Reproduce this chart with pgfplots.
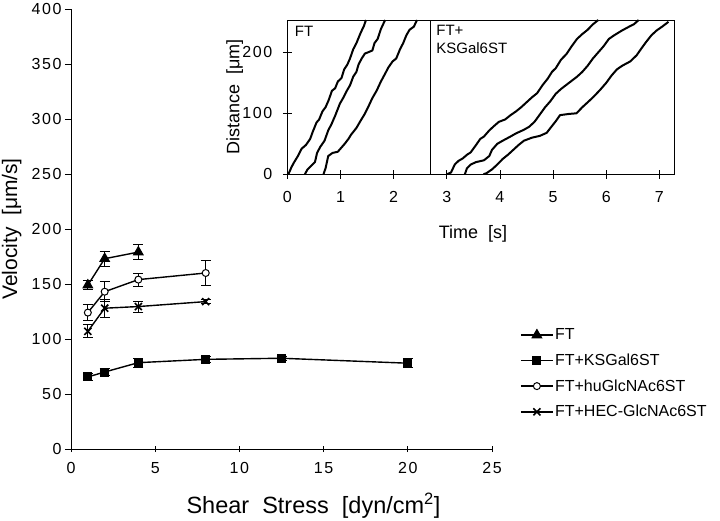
\documentclass[border=0pt]{standalone}
\usepackage{fontspec}
\setmainfont{Liberation Sans}
\newfontfamily\tickfont[LetterSpace=10]{Liberation Sans}
\usepackage{pgfplots}
\pgfplotsset{compat=1.18}
\begin{document}
\begin{tikzpicture}[x=1pt,y=1pt]
\path[use as bounding box] (0,0) rectangle (720,520);
% ---------------- main axis ----------------
\begin{axis}[
  at={(71pt,71pt)}, anchor=south west, scale only axis,
  width=421pt, height=440pt,
  xmin=0, xmax=25, ymin=0, ymax=400,
  axis lines=left, axis line style={-, line width=0.7pt},
  xtick={0,5,...,25}, ytick={0,50,...,400},
  xtick align=center, ytick align=outside, major tick length=6pt,
  tick style={black, line width=0.7pt},
  /pgf/number format/assume math mode=true,
  ticklabel style={font=\tickfont\fontsize{16}{16}\selectfont},
  xticklabel style={yshift=-7pt},
  yticklabel style={xshift=0pt},
  xlabel={Shear\ \ Stress\ \ [dyn/cm\textsuperscript{2}]},
  xlabel style={at={(axis description cs:0.266,-0.1477)}, anchor=base west, font=\fontsize{23.5}{23.5}\selectfont},
  ylabel={Velocity\ \ [μm/s]},
  ylabel style={at={(axis description cs:-0.128,0.5)}, anchor=base, font=\fontsize{21}{21}\selectfont},
  legend style={draw=none, fill=none, inner sep=0pt, at={(axis description cs:1.0665,0.276)}, anchor=north west,
     font=\fontsize{16}{16}\selectfont, row sep=10.6pt, nodes={inner xsep=1.5pt, inner ysep=1pt}},
  legend cell align=left,
  legend image code/.code={\draw[mark repeat=2,mark phase=2] plot coordinates {(0pt,0pt) (16pt,0pt) (32pt,0pt)};},
  error bars/error bar style={line width=1pt, black},
  error bars/error mark options={black, line width=1pt, mark size=5pt, rotate=90},
]
\addplot[black, line width=1.4pt, mark=triangle*, mark options={solid, fill=black, mark size=5.5pt, line width=1pt},
  error bars/.cd, y dir=both, y explicit] coordinates {
  (1,149) +- (0,4)
  (2,173) +- (0,7)
  (4,179) +- (0,6.5)
};
\addlegendentry{FT}
\addplot[black, line width=1.4pt, mark=square*, mark options={solid, fill=black, mark size=4pt, line width=1pt},
  error bars/.cd, y dir=both, y explicit] coordinates {
  (1,65.5) +- (0,3)
  (2,70) +- (0,3)
  (4,78.5) +- (0,4)
  (8,81.5) +- (0,3)
  (12.5,82.5) +- (0,2)
  (20,78) +- (0,4)
};
\addlegendentry{FT+KSGal6ST}
\addplot[black, line width=1.4pt, mark=*, mark options={solid, fill=white, draw=black, mark size=3.5pt, line width=1pt},
  error bars/.cd, y dir=both, y explicit] coordinates {
  (1,124) +- (0,7)
  (2,143) +- (0,9)
  (4,154) +- (0,6)
  (8,160) +- (0,11)
};
\addlegendentry{FT+huGlcNAc6ST}
\addplot[black, line width=1.4pt, mark=x, mark options={solid, mark size=5pt, line width=1.6pt},
  error bars/.cd, y dir=both, y explicit] coordinates {
  (1,107) +- (0,6)
  (2,128) +- (0,8)
  (4,129.5) +- (0,5)
  (8,134) +- (0,2)
};
\addlegendentry{FT+HEC-GlcNAc6ST}
\end{axis}
% ---------------- inset axis ----------------
\begin{axis}[
  at={(287.3pt,345.7pt)}, anchor=south west, scale only axis,
  width=387pt, height=154.3pt,
  xmin=0, xmax=7.28, ymin=0, ymax=253,
  xtick={0,1,...,7}, ytick={0,100,200},
  xtick pos=bottom, ytick pos=left,
  xtick align=center, ytick align=center, major tick length=9pt,
  tick style={black, line width=0.6pt},
  axis line style={line width=0.7pt},
  /pgf/number format/assume math mode=true,
  ticklabel style={font=\tickfont\fontsize{16}{16}\selectfont},
  xticklabel style={yshift=-9pt},
  yticklabel style={xshift=-7pt},
  xlabel={Time\ \ [s]},
  xlabel style={at={(axis description cs:0.48,0)}, anchor=base, yshift=-63.7pt, font=\fontsize{18}{18}\selectfont},
  ylabel={Distance\ \ [μm]},
  ylabel style={at={(axis description cs:-0.124,0.5)}, anchor=base, font=\fontsize{18}{18}\selectfont},
]
\addplot[black, line width=2pt, line join=round] coordinates {(0.02,0) (0.08,12) (0.13,20) (0.2,30) (0.27,42) (0.35,48) (0.43,58) (0.48,70) (0.55,85) (0.6,90) (0.66,103) (0.72,110) (0.78,122) (0.84,137) (0.9,141) (0.95,152) (1.02,158) (1.07,172) (1.13,180) (1.18,190) (1.24,205) (1.3,215) (1.38,232) (1.44,243) (1.48,253)};
\addplot[black, line width=2pt, line join=round] coordinates {(0.33,0) (0.38,8) (0.45,14) (0.52,20) (0.56,35) (0.62,45) (0.7,55) (0.77,72) (0.83,82) (0.9,96) (0.99,116) (1.05,125) (1.12,137) (1.18,146) (1.24,160) (1.3,168) (1.34,180) (1.4,190) (1.46,198) (1.52,200) (1.6,203) (1.64,215) (1.7,222) (1.76,238) (1.84,253)};
\addplot[black, line width=2pt, line join=round] coordinates {(0.68,0) (0.72,10) (0.77,30) (0.85,35) (0.95,37) (1.0,42) (1.08,50) (1.15,58) (1.2,65) (1.3,76) (1.38,88) (1.45,98) (1.52,110) (1.6,125) (1.68,137) (1.76,152) (1.84,165) (1.9,175) (1.98,185) (2.05,190) (2.12,205) (2.18,215) (2.24,228) (2.3,237) (2.38,242) (2.44,253)};
\addplot[black, line width=2pt, line join=round] coordinates {(3.0,0) (3.08,3) (3.15,16) (3.22,22) (3.3,26) (3.38,32) (3.45,36) (3.55,48) (3.63,58) (3.7,62) (3.8,72) (3.9,80) (3.98,86) (4.1,90) (4.2,97) (4.3,103) (4.4,110) (4.5,118) (4.6,126) (4.7,133) (4.8,146) (4.9,157) (4.98,168) (5.05,174) (5.15,188) (5.25,197) (5.35,210) (5.45,222) (5.55,230) (5.65,237) (5.75,246) (5.85,253)};
\addplot[black, line width=2pt, line join=round] coordinates {(3.34,0) (3.38,10) (3.45,16) (3.55,20) (3.7,23) (3.8,30) (3.85,40) (3.95,50) (4.05,55) (4.2,62) (4.3,67) (4.45,73) (4.55,78) (4.65,86) (4.75,98) (4.85,110) (4.95,120) (5.05,132) (5.15,140) (5.3,150) (5.45,160) (5.55,168) (5.65,178) (5.75,190) (5.85,200) (5.95,210) (6.05,222) (6.15,228) (6.3,236) (6.45,243) (6.52,246) (6.61,253)};
\addplot[black, line width=2pt, line join=round] coordinates {(3.69,0) (3.75,2) (3.85,8) (3.95,16) (4.05,25) (4.15,32) (4.25,40) (4.35,48) (4.45,55) (4.6,60) (4.75,63) (4.88,68) (4.95,76) (5.05,87) (5.13,97) (5.3,99) (5.44,100) (5.55,110) (5.65,118) (5.76,127) (5.88,138) (6.0,150) (6.1,162) (6.2,172) (6.3,178) (6.45,185) (6.57,195) (6.65,205) (6.75,217) (6.85,228) (6.95,236) (7.05,242) (7.17,250)};
\draw[black, line width=0.7pt] (axis cs:2.7,0) -- (axis cs:2.7,253);
\node[anchor=base west, inner sep=0pt, font=\fontsize{15}{15}\selectfont] at (axis cs:0.14,226) {FT};
\node[anchor=north west, inner sep=0pt, font=\fontsize{15}{18}\selectfont, align=left] at (axis cs:2.8,245) {FT+\\KSGal6ST};
\end{axis}
\end{tikzpicture}
\end{document}
